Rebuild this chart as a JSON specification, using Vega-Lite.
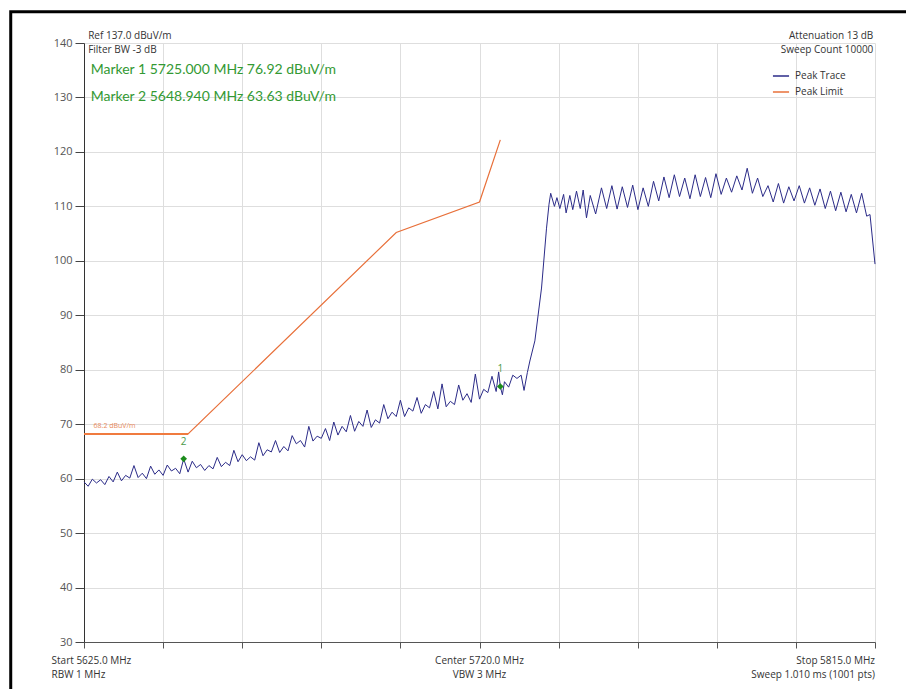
{
  "$schema": "https://vega.github.io/schema/vega-lite/v6.json",
  "width": 791,
  "height": 599,
  "autosize": {"type": "none"},
  "padding": {"left": 84, "top": 43, "right": 31, "bottom": 47},
  "background": "white",
  "config": {"view": {"stroke": null}, "font": "Open Sans", "text": {"font": "Open Sans"}},
  "datasets": {
    "one": [{}],
    "trace": [
      {"f":5625,"v":59.4},{"f":5626,"v":58.6},{"f":5627,"v":59.9},{"f":5628,"v":59.2},{"f":5629,"v":59.8},{"f":5630,"v":58.9},{"f":5631,"v":60.4},{"f":5632,"v":59.4},{"f":5633,"v":61.2},{"f":5634,"v":59.6},
      {"f":5635,"v":60.6},{"f":5636,"v":60.1},{"f":5637,"v":62.4},{"f":5638,"v":60.2},{"f":5639,"v":61.0},{"f":5640,"v":60.0},{"f":5641,"v":62.3},{"f":5642,"v":60.8},{"f":5643,"v":61.6},{"f":5644,"v":60.6},
      {"f":5645,"v":62.5},{"f":5646,"v":61.4},{"f":5647,"v":61.9},{"f":5648,"v":60.9},{"f":5648.94,"v":63.63},{"f":5650,"v":61.2},{"f":5651,"v":63.2},{"f":5652,"v":62.0},{"f":5653,"v":62.6},{"f":5654,"v":61.5},
      {"f":5655,"v":62.4},{"f":5656,"v":61.8},{"f":5657,"v":63.9},{"f":5658,"v":62.2},{"f":5659,"v":63.0},{"f":5660,"v":62.4},{"f":5661,"v":65.2},{"f":5662,"v":63.1},{"f":5663,"v":64.4},{"f":5664,"v":63.3},
      {"f":5665,"v":64.0},{"f":5666,"v":63.4},{"f":5667,"v":66.6},{"f":5668,"v":64.2},{"f":5669,"v":65.3},{"f":5670,"v":64.9},{"f":5671,"v":67.0},{"f":5672,"v":64.8},{"f":5673,"v":65.9},{"f":5674,"v":65.1},
      {"f":5675,"v":67.9},{"f":5676,"v":66.4},{"f":5677,"v":67.0},{"f":5678,"v":65.8},{"f":5679,"v":69.6},{"f":5680,"v":66.9},{"f":5681,"v":67.8},{"f":5682,"v":67.4},{"f":5683,"v":69.2},{"f":5684,"v":67.0},
      {"f":5685,"v":70.4},{"f":5686,"v":68.0},{"f":5687,"v":69.6},{"f":5688,"v":68.6},{"f":5689,"v":71.6},{"f":5690,"v":68.7},{"f":5691,"v":70.5},{"f":5692,"v":69.6},{"f":5693,"v":72.6},{"f":5694,"v":69.4},
      {"f":5695,"v":70.8},{"f":5696,"v":70.2},{"f":5697,"v":73.6},{"f":5698,"v":71.0},{"f":5699,"v":72.2},{"f":5700,"v":71.4},{"f":5701,"v":74.4},{"f":5702,"v":71.4},{"f":5703,"v":73.0},{"f":5704,"v":72.4},
      {"f":5705,"v":74.9},{"f":5706,"v":72.0},{"f":5707,"v":73.6},{"f":5708,"v":73.0},{"f":5709,"v":76.0},{"f":5710,"v":72.8},{"f":5711,"v":77.4},{"f":5712,"v":73.2},{"f":5713,"v":74.2},{"f":5714,"v":73.6},
      {"f":5715,"v":77.2},{"f":5716,"v":74.4},{"f":5717,"v":75.6},{"f":5718,"v":74.0},{"f":5719,"v":79.2},{"f":5720,"v":74.6},{"f":5721,"v":76.4},{"f":5722,"v":75.8},{"f":5723,"v":78.8},{"f":5724,"v":76.0},
      {"f":5724.6,"v":79.6},{"f":5725,"v":76.92},{"f":5725.5,"v":75.4},{"f":5726,"v":77.8},{"f":5727,"v":76.8},{"f":5728,"v":79.0},{"f":5729,"v":78.4},{"f":5730,"v":79.0},{"f":5730.7,"v":76.2},{"f":5731.5,"v":79.5},
      {"f":5732.1,"v":81.6},{"f":5733.3,"v":85.3},{"f":5734.9,"v":95.0},{"f":5736.1,"v":106.0},{"f":5736.7,"v":110.4},{"f":5737.1,"v":112.4},
      {"f":5738.0,"v":110.0},{"f":5738.6,"v":111.6},{"f":5739.3,"v":109.6},{"f":5740.2,"v":112.2},{"f":5740.8,"v":108.8},{"f":5741.7,"v":112.0},{"f":5742.4,"v":109.4},{"f":5743.3,"v":112.8},{"f":5744.2,"v":109.6},{"f":5744.9,"v":113.0},
      {"f":5745.7,"v":107.9},{"f":5746.6,"v":112.0},{"f":5747.9,"v":108.6},
      {"f":5749.3,"v":113.4},{"f":5750.55,"v":109.6},{"f":5751.8,"v":113.8},{"f":5753.05,"v":109.5},{"f":5754.3,"v":113.6},{"f":5755.55,"v":109.8},{"f":5756.8,"v":113.9},{"f":5758.05,"v":109.4},{"f":5759.3,"v":113.4},{"f":5760.55,"v":110.0},
      {"f":5761.8,"v":114.6},{"f":5763.05,"v":111.0},{"f":5764.3,"v":115.4},{"f":5765.55,"v":111.6},{"f":5766.8,"v":115.8},{"f":5768.05,"v":111.8},{"f":5769.3,"v":115.2},{"f":5770.55,"v":111.4},{"f":5771.8,"v":115.8},{"f":5773.05,"v":111.8},
      {"f":5774.3,"v":115.3},{"f":5775.55,"v":111.6},{"f":5776.8,"v":116.0},{"f":5778.05,"v":112.2},{"f":5779.3,"v":115.2},{"f":5780.55,"v":112.6},{"f":5781.8,"v":115.6},{"f":5783.05,"v":113.0},{"f":5784.3,"v":117.0},{"f":5785.55,"v":112.4},
      {"f":5786.8,"v":115.2},{"f":5788.05,"v":111.8},{"f":5789.3,"v":113.8},{"f":5790.55,"v":110.8},{"f":5791.8,"v":114.2},{"f":5793.05,"v":110.6},{"f":5794.3,"v":113.6},{"f":5795.55,"v":111.0},{"f":5796.8,"v":113.8},{"f":5798.05,"v":110.6},
      {"f":5799.3,"v":113.4},{"f":5800.55,"v":110.2},{"f":5801.8,"v":113.2},{"f":5803.05,"v":109.6},{"f":5804.3,"v":112.8},{"f":5805.55,"v":109.2},{"f":5806.8,"v":112.6},{"f":5808.05,"v":109.0},{"f":5809.3,"v":112.2},{"f":5810.55,"v":108.8},
      {"f":5811.8,"v":112.4},{"f":5813.0,"v":108.2},{"f":5813.8,"v":108.5},{"f":5815,"v":99.4}
    ],
    "limit": [
      {"f":5625,"v":68.2},{"f":5650,"v":68.2},{"f":5700,"v":105.2},{"f":5720,"v":110.8},{"f":5725,"v":122.2}
    ],
    "display": [
      {"f":5625,"v":68.2},{"f":5650,"v":68.2}
    ],
    "markers": [
      {"f":5725.0,"v":76.92,"n":"1"},
      {"f":5648.94,"v":63.63,"n":"2"}
    ]
  },
  "layer": [
    {
      "data": {"name": "limit"},
      "mark": {"type": "line", "strokeWidth": 1.2},
      "encoding": {
        "x": {"field": "f", "type": "quantitative",
          "scale": {"domain": [5625, 5815], "nice": false, "zero": false},
          "axis": {"title": null, "values": [5625,5644,5663,5682,5701,5720,5739,5758,5777,5796,5815], "labels": false,
            "grid": true, "gridColor": "#dedede", "domainColor": "#555", "tickColor": "#555", "tickSize": 6}},
        "y": {"field": "v", "type": "quantitative",
          "scale": {"domain": [30, 140], "nice": false, "zero": false},
          "axis": {"title": null, "values": [30,40,50,60,70,80,90,100,110,120,130,140],
            "grid": true, "gridColor": "#dedede", "domainColor": "#333", "tickColor": "#444", "tickSize": 9,
            "labelPadding": 3, "labelFontSize": 11, "labelColor": "#555", "labelFont": "Open Sans"}},
        "color": {"datum": "Peak Limit", "type": "nominal",
          "scale": {"domain": ["Peak Trace", "Peak Limit"], "range": ["#2b2b88", "#e8703a"]},
          "legend": {"orient": "none", "legendX": 688, "legendY": 24, "title": null, "symbolType": "stroke",
            "symbolSize": 260, "symbolStrokeWidth": 1.5, "labelFontSize": 10, "labelColor": "#333",
            "labelFont": "Open Sans", "rowPadding": 2, "labelOffset": 5}}
      }
    },
    {
      "data": {"name": "display"},
      "mark": {"type": "line", "strokeWidth": 2.2, "color": "#f07b3f"},
      "encoding": {
        "x": {"field": "f", "type": "quantitative"},
        "y": {"field": "v", "type": "quantitative"}
      }
    },
    {
      "data": {"name": "trace"},
      "mark": {"type": "line", "strokeWidth": 1},
      "encoding": {
        "x": {"field": "f", "type": "quantitative"},
        "y": {"field": "v", "type": "quantitative"},
        "color": {"datum": "Peak Trace", "type": "nominal"}
      }
    },
    {
      "data": {"name": "markers"},
      "mark": {"type": "point", "shape": "diamond", "filled": true, "color": "#1c8c1c", "size": 45, "opacity": 1},
      "encoding": {
        "x": {"field": "f", "type": "quantitative"},
        "y": {"field": "v", "type": "quantitative"}
      }
    },
    {
      "data": {"name": "markers"},
      "mark": {"type": "text", "dy": -17, "fontSize": 10, "color": "#4a9a4a"},
      "encoding": {
        "x": {"field": "f", "type": "quantitative"},
        "y": {"field": "v", "type": "quantitative"},
        "text": {"field": "n"}
      }
    },
    {
      "data": {"name": "one"},
      "mark": {"type": "text", "text": "68.2 dBuV/m", "align": "left", "baseline": "middle", "fontSize": 7, "color": "#e88a5a"},
      "encoding": {"x": {"datum": 5627.3, "type": "quantitative"}, "y": {"datum": 69.6, "type": "quantitative"}}
    },
    {
      "data": {"name": "one"},
      "mark": {"type": "text", "text": "Ref 137.0 dBuV/m", "align": "left", "baseline": "middle", "fontSize": 10, "color": "#333"},
      "encoding": {"x": {"datum": 5626, "type": "quantitative"}, "y": {"datum": 141.25, "type": "quantitative"}}
    },
    {
      "data": {"name": "one"},
      "mark": {"type": "text", "text": "Filter BW -3 dB", "align": "left", "baseline": "middle", "fontSize": 10, "color": "#333"},
      "encoding": {"x": {"datum": 5626, "type": "quantitative"}, "y": {"datum": 138.68, "type": "quantitative"}}
    },
    {
      "data": {"name": "one"},
      "mark": {"type": "text", "text": "Marker 1 5725.000 MHz 76.92 dBuV/m", "align": "left", "baseline": "middle", "font": "Lato", "fontSize": 14, "color": "#339933"},
      "encoding": {"x": {"datum": 5626.6, "type": "quantitative"}, "y": {"datum": 135.0, "type": "quantitative"}}
    },
    {
      "data": {"name": "one"},
      "mark": {"type": "text", "text": "Marker 2 5648.940 MHz 63.63 dBuV/m", "align": "left", "baseline": "middle", "font": "Lato", "fontSize": 14, "color": "#339933"},
      "encoding": {"x": {"datum": 5626.6, "type": "quantitative"}, "y": {"datum": 130.05, "type": "quantitative"}}
    },
    {
      "data": {"name": "one"},
      "mark": {"type": "text", "text": "Attenuation 13 dB", "align": "right", "baseline": "middle", "fontSize": 10, "color": "#333"},
      "encoding": {"x": {"datum": 5814.6, "type": "quantitative"}, "y": {"datum": 141.25, "type": "quantitative"}}
    },
    {
      "data": {"name": "one"},
      "mark": {"type": "text", "text": "Sweep Count 10000", "align": "right", "baseline": "middle", "fontSize": 10, "color": "#333"},
      "encoding": {"x": {"datum": 5814.6, "type": "quantitative"}, "y": {"datum": 138.68, "type": "quantitative"}}
    },
    {
      "data": {"name": "one"},
      "mark": {"type": "text", "text": "Start 5625.0 MHz", "align": "left", "baseline": "middle", "fontSize": 10, "color": "#333"},
      "encoding": {"x": {"datum": 5617.2, "type": "quantitative"}, "y": {"datum": 26.46, "type": "quantitative"}}
    },
    {
      "data": {"name": "one"},
      "mark": {"type": "text", "text": "RBW 1 MHz", "align": "left", "baseline": "middle", "fontSize": 10, "color": "#333"},
      "encoding": {"x": {"datum": 5617.2, "type": "quantitative"}, "y": {"datum": 23.88, "type": "quantitative"}}
    },
    {
      "data": {"name": "one"},
      "mark": {"type": "text", "text": "Center 5720.0 MHz", "align": "center", "baseline": "middle", "fontSize": 10, "color": "#333"},
      "encoding": {"x": {"datum": 5720, "type": "quantitative"}, "y": {"datum": 26.46, "type": "quantitative"}}
    },
    {
      "data": {"name": "one"},
      "mark": {"type": "text", "text": "VBW 3 MHz", "align": "center", "baseline": "middle", "fontSize": 10, "color": "#333"},
      "encoding": {"x": {"datum": 5720, "type": "quantitative"}, "y": {"datum": 23.88, "type": "quantitative"}}
    },
    {
      "data": {"name": "one"},
      "mark": {"type": "text", "text": "Stop 5815.0 MHz", "align": "right", "baseline": "middle", "fontSize": 10, "color": "#333"},
      "encoding": {"x": {"datum": 5815, "type": "quantitative"}, "y": {"datum": 26.46, "type": "quantitative"}}
    },
    {
      "data": {"name": "one"},
      "mark": {"type": "text", "text": "Sweep 1.010 ms (1001 pts)", "align": "right", "baseline": "middle", "fontSize": 10, "color": "#333"},
      "encoding": {"x": {"datum": 5815, "type": "quantitative"}, "y": {"datum": 23.88, "type": "quantitative"}}
    },
    {
      "data": {"name": "one"},
      "mark": {"type": "rect", "fill": null, "fillOpacity": 0, "stroke": "#000", "strokeWidth": 3, "clip": false},
      "encoding": {
        "x": {"datum": 5607.4, "type": "quantitative"}, "x2": {"datum": 5826},
        "y": {"datum": 145.75, "type": "quantitative"}, "y2": {"datum": 18}
      }
    }
  ]
}
